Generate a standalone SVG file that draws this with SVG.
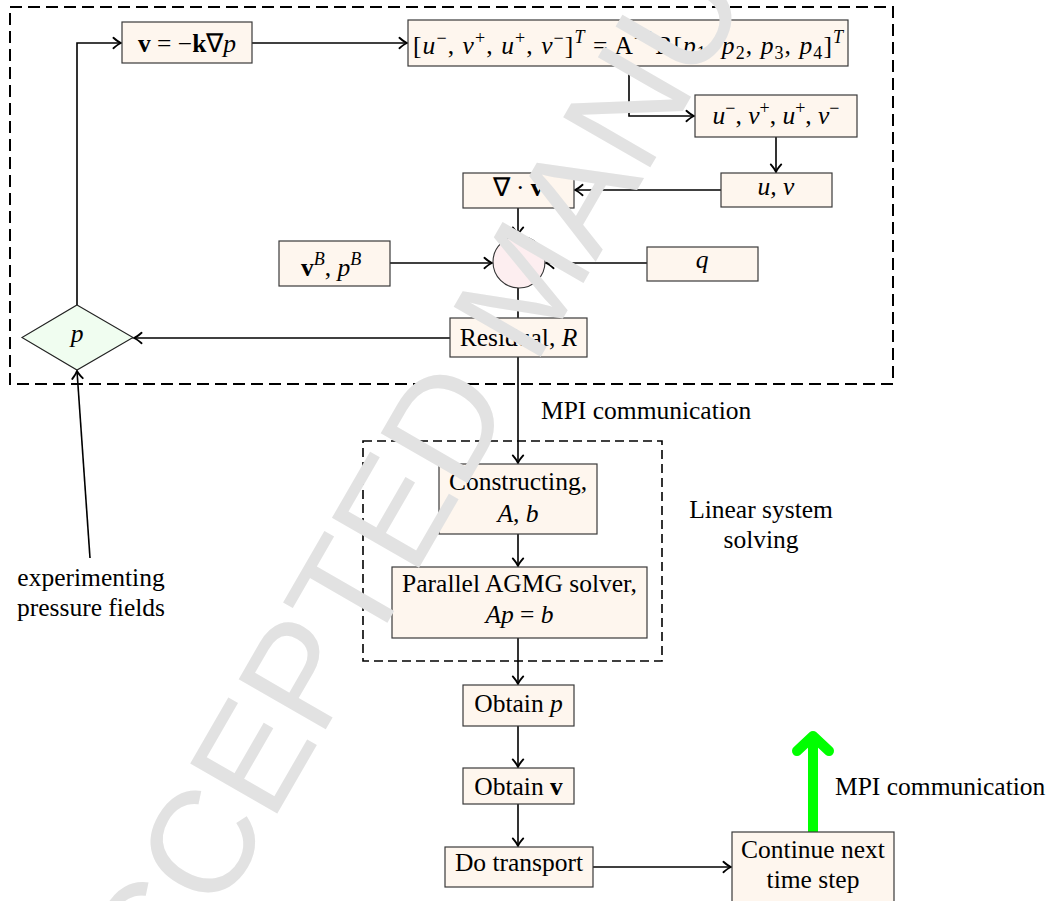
<svg xmlns="http://www.w3.org/2000/svg" width="1052" height="901" viewBox="0 0 1052 901">
<style>
.t{font-family:"Liberation Serif","Times New Roman",serif;font-size:25.5px;fill:#000}
.i{font-style:italic}
.b{font-weight:bold}
.s{font-size:18px}
.box{fill:#fef6ee;stroke:#3a3a3a;stroke-width:1.2}
.c{fill:none;stroke:#000;stroke-width:1.6}
.dash1{fill:none;stroke:#000;stroke-width:2;stroke-dasharray:12 6}
.dash2{fill:none;stroke:#000;stroke-width:1.6;stroke-dasharray:9 5}
.wm{font-family:"Liberation Sans",Arial,sans-serif;font-size:146px;fill:#e2e2e2}
</style>
<defs>
<marker id="ar" markerUnits="userSpaceOnUse" markerWidth="14" markerHeight="14" viewBox="-8 -6 10 12" refX="0" refY="0" orient="auto">
<path d="M-6.5,-4.5 Q-2.5,-1 0,0 Q-2.5,1 -6.5,4.5" fill="none" stroke="#000" stroke-width="1.6" stroke-linecap="round"/>
</marker>
</defs>
<rect width="1052" height="901" fill="#fff"/>

<g id="groups">
<rect class="dash1" x="10" y="7" width="883" height="377"/>
<rect class="dash2" x="363" y="441" width="299" height="220"/>
</g>

<g id="connectors">
<polyline class="c" points="77,305 77,43 121,43" marker-end="url(#ar)"/>
<line class="c" x1="252" y1="43" x2="407" y2="43" marker-end="url(#ar)"/>
<polyline class="c" points="629,66 629,116 694,116" marker-end="url(#ar)"/>
<line class="c" x1="776" y1="137" x2="776" y2="172" marker-end="url(#ar)"/>
<line class="c" x1="721" y1="190" x2="575" y2="190" marker-end="url(#ar)"/>
<line class="c" x1="518" y1="208" x2="518" y2="235" marker-end="url(#ar)"/>
<line class="c" x1="390" y1="263" x2="492" y2="263" marker-end="url(#ar)"/>
<line class="c" x1="647" y1="263" x2="546" y2="263" marker-end="url(#ar)"/>
<line class="c" x1="518" y1="288" x2="518" y2="318"/>
<line class="c" x1="450" y1="338" x2="134" y2="338" marker-end="url(#ar)"/>
<line class="c" x1="90" y1="558" x2="77" y2="371" marker-end="url(#ar)"/>
<line class="c" x1="518" y1="357" x2="518" y2="463" marker-end="url(#ar)"/>
<line class="c" x1="518" y1="534" x2="518" y2="566" marker-end="url(#ar)"/>
<line class="c" x1="518" y1="638" x2="518" y2="684" marker-end="url(#ar)"/>
<line class="c" x1="518" y1="726" x2="518" y2="767" marker-end="url(#ar)"/>
<line class="c" x1="518" y1="804" x2="518" y2="846" marker-end="url(#ar)"/>
<line class="c" x1="593" y1="867" x2="731" y2="867" marker-end="url(#ar)"/>
<g id="green-arrow" fill="none" stroke="#00ff00" stroke-width="10" stroke-linecap="round" stroke-linejoin="round">
<line x1="813" y1="832" x2="813" y2="740" stroke-linecap="butt"/>
<polyline points="797,751 813,736 829,751"/>
</g>
</g>

<g id="n-vel">
<rect class="box" x="122" y="22" width="130" height="41"/>
<text class="t" x="187" y="52" text-anchor="middle"><tspan class="b">v</tspan> = −<tspan class="b">k</tspan>∇<tspan class="i">p</tspan></text>
</g>

<g id="n-formula">
<rect class="box" x="408" y="20" width="440" height="46"/>
<text class="t" x="628" y="54" text-anchor="middle" textLength="430" lengthAdjust="spacing">[<tspan class="i">u</tspan><tspan class="s" dy="-10">−</tspan><tspan dy="10">, </tspan><tspan class="i">v</tspan><tspan class="s" dy="-10">+</tspan><tspan dy="10">, </tspan><tspan class="i">u</tspan><tspan class="s" dy="-10">+</tspan><tspan dy="10">, </tspan><tspan class="i">v</tspan><tspan class="s" dy="-10">−</tspan><tspan dy="10">]</tspan><tspan class="s i" dy="-11">T</tspan><tspan dy="11"> = A</tspan><tspan class="s" dy="-10">−1</tspan><tspan dy="10">B[</tspan><tspan class="i">p</tspan><tspan class="s" dy="5">1</tspan><tspan dy="-5">, </tspan><tspan class="i">p</tspan><tspan class="s" dy="5">2</tspan><tspan dy="-5">, </tspan><tspan class="i">p</tspan><tspan class="s" dy="5">3</tspan><tspan dy="-5">, </tspan><tspan class="i">p</tspan><tspan class="s" dy="5">4</tspan><tspan dy="-5">]</tspan><tspan class="s i" dy="-11">T</tspan></text>
</g>

<g id="n-face">
<rect class="box" x="695" y="95" width="162" height="42"/>
<text class="t" x="776" y="124" text-anchor="middle"><tspan class="i">u</tspan><tspan class="s" dy="-10">−</tspan><tspan dy="10">, </tspan><tspan class="i">v</tspan><tspan class="s" dy="-10">+</tspan><tspan dy="10">, </tspan><tspan class="i">u</tspan><tspan class="s" dy="-10">+</tspan><tspan dy="10">, </tspan><tspan class="i">v</tspan><tspan class="s" dy="-10">−</tspan></text>
</g>

<g id="n-uv">
<rect class="box" x="721" y="173" width="111" height="34"/>
<text class="t i" x="776" y="195" text-anchor="middle">u, v</text>
</g>

<g id="n-div">
<rect class="box" x="463" y="173" width="111" height="35"/>
<text class="t" x="518" y="196" text-anchor="middle">∇ · <tspan class="b">v</tspan></text>
</g>

<g id="n-sum">
<circle cx="519" cy="262" r="26" fill="#fdeef0" stroke="#333" stroke-width="1.1"/>
</g>

<g id="n-vb">
<rect class="box" x="279" y="241" width="111" height="45"/>
<text class="t" x="331" y="276" text-anchor="middle"><tspan class="b">v</tspan><tspan class="s i" dy="-11">B</tspan><tspan dy="11">, </tspan><tspan class="i">p</tspan><tspan class="s i" dy="-11">B</tspan></text>
</g>

<g id="n-q">
<rect class="box" x="647" y="247" width="111" height="34"/>
<text class="t i" x="702" y="268" text-anchor="middle">q</text>
</g>

<g id="n-res">
<rect class="box" x="450" y="318" width="137" height="39"/>
<text class="t" x="518.5" y="346" text-anchor="middle">Residual, <tspan class="i">R</tspan></text>
</g>

<g id="n-p">
<polygon points="77,305 133,337.5 77,370 22,337.5" fill="#f0fdf0" stroke="#222" stroke-width="1.1"/>
<text class="t i" x="77" y="342" text-anchor="middle">p</text>
</g>

<g id="n-exp">
<text class="t" x="91" y="586" text-anchor="middle">experimenting</text>
<text class="t" x="91" y="616" text-anchor="middle">pressure fields</text>
</g>

<g id="l-mpi1">
<text class="t" x="541" y="419">MPI communication</text>
</g>

<g id="n-cons">
<rect class="box" x="439" y="464" width="158" height="70"/>
<text class="t" x="518" y="490" text-anchor="middle">Constructing,</text>
<text class="t" x="518" y="522" text-anchor="middle"><tspan class="i">A</tspan>, <tspan class="i">b</tspan></text>
</g>

<g id="l-lin">
<text class="t" x="761" y="518" text-anchor="middle">Linear system</text>
<text class="t" x="761" y="548" text-anchor="middle">solving</text>
</g>

<g id="n-agmg">
<rect class="box" x="392" y="567" width="255" height="71"/>
<text class="t" x="519.5" y="592" text-anchor="middle">Parallel AGMG solver,</text>
<text class="t i" x="519.5" y="623" text-anchor="middle">Ap <tspan font-style="normal">=</tspan> b</text>
</g>

<g id="n-obp">
<rect class="box" x="463" y="685" width="111" height="41"/>
<text class="t" x="518.5" y="712" text-anchor="middle">Obtain <tspan class="i">p</tspan></text>
</g>

<g id="n-obv">
<rect class="box" x="463" y="768" width="111" height="36"/>
<text class="t" x="518.5" y="795" text-anchor="middle">Obtain <tspan class="b">v</tspan></text>
</g>

<g id="n-trans">
<rect class="box" x="445" y="847" width="148" height="40"/>
<text class="t" x="519" y="871" text-anchor="middle">Do transport</text>
</g>

<g id="n-cont">
<rect class="box" x="732" y="832" width="162" height="71"/>
<text class="t" x="813" y="858" text-anchor="middle">Continue next</text>
<text class="t" x="813" y="888" text-anchor="middle">time step</text>
</g>

<g id="l-mpi2">
<text class="t" x="835" y="795">MPI communication</text>
</g>

<g id="watermark">
<text class="wm" transform="translate(117,1091) rotate(-60)">ACCEPTED MANUSCRIPT</text>
</g>
</svg>
